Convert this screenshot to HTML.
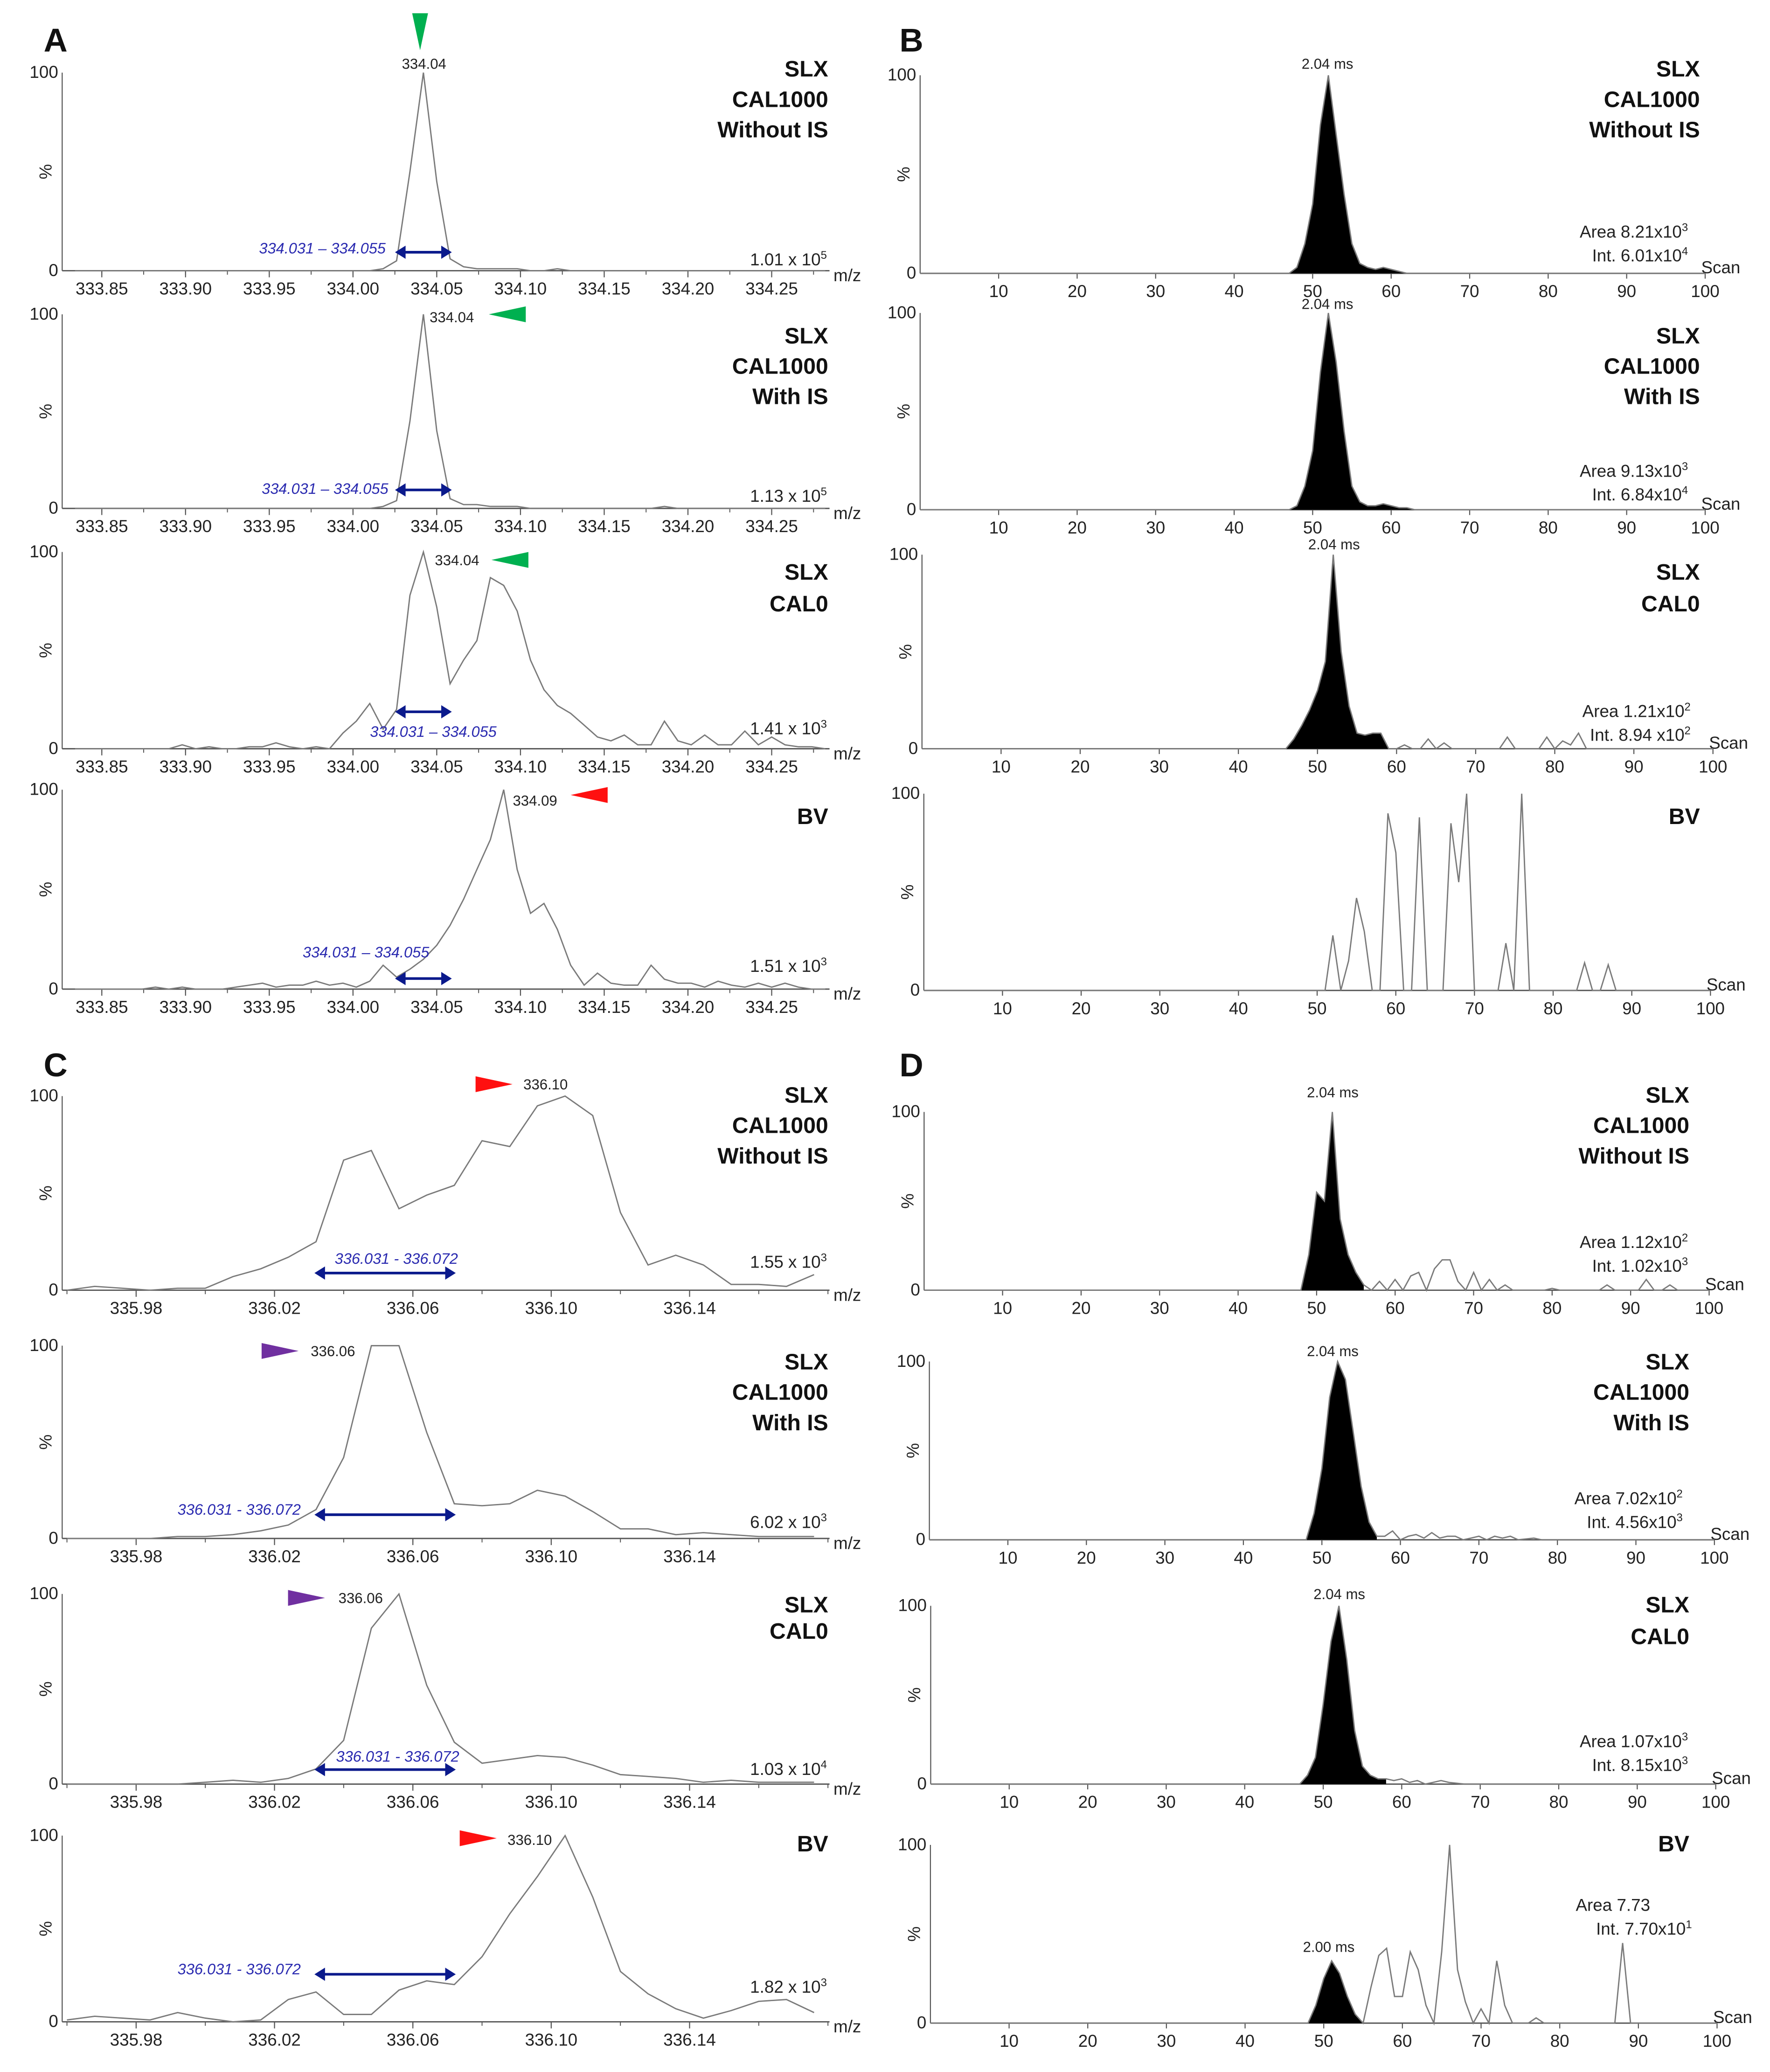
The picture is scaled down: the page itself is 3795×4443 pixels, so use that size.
<!DOCTYPE html>
<html><head><meta charset="utf-8"><title>Mass spectra and chromatograms</title>
<style>
html,body{margin:0;padding:0;background:#fff;}
svg{display:block;font-family:"Liberation Sans",sans-serif;}
</style></head>
<body>
<svg id="fig" xmlns="http://www.w3.org/2000/svg" width="3795" height="4443" viewBox="0 0 1340 1569">
<rect width="1340" height="1569" fill="#fff"/>
</svg>
<script>
// ===== Data =====
const aMzStart = 333.834;
const aMzStep = 0.008;
const aTicks = [333.85,333.90,333.95,334.00,334.05,334.10,334.15,334.20,334.25];
const a1Vals = [0,0,0,0,0,0,0,0,0,0,0,0,0,0,0,0,0,0,0,0,0,0,0,1,5,50,100,45,6,2,1,1,1,1,0,0,1,0,0,0,0,0,0,0,0,0,0,0,0,0,0,0,0,0,0,0,0];
const a2Vals = [0,0,0,0,0,0,0,0,0,0,0,0,0,0,0,0,0,0,0,0,0,0,0,1,4,45,100,40,5,2,2,1,1,1,0,0,0,0,0,0,0,0,0,0,1,0,0,0,0,0,0,0,0,0,0,0,0];
const a3Vals = [0,0,0,0,0,0,0,0,2,0,1,0,0,1,1,3,1,0,1,0,8,14,23,10,20,78,100,72,33,45,55,87,83,70,45,30,22,18,12,6,4,7,2,2,14,4,2,7,2,2,9,2,6,2,1,1,0];
const a4Vals = [0,0,0,0,0,0,1,0,1,0,0,0,1,2,3,1,2,2,4,2,3,1,4,12,6,10,15,22,32,45,60,75,100,60,38,43,30,12,2,8,3,2,2,12,5,3,3,1,4,2,1,3,1,3,1,0,0];
const cMzStart = 335.960;
const cMzStep = 0.008;
const cTicks = [335.98,336.02,336.06,336.10,336.14];
const c1Vals = [0,2,1,0,1,1,7,11,17,25,67,72,42,49,54,77,74,95,100,90,40,13,18,13,3,3,2,8];
const c2Vals = [0,0,0,0,1,1,2,4,7,15,42,100,100,55,18,17,18,25,22,14,5,5,2,3,2,1,1,1];
const c3Vals = [0,0,0,0,0,1,2,1,3,8,23,82,100,52,22,11,13,15,14,10,5,4,3,1,2,1,1,1];
const c4Vals = [1,3,2,1,5,2,0,1,12,16,4,4,17,22,20,35,58,78,100,67,27,15,7,2,6,11,12,5];
const scanTicks = [10,20,30,40,50,60,70,80,90,100];
const b1Scans = [0,47,48,49,50,51,52,53,54,55,56,57,58,59,60,61,62,100];
const b1Vals  = [0,0,3,15,35,75,100,70,40,15,5,3,2,3,2,1,0,0];
const b1Fill = [47,62];
const b2Scans = [0,47,48,49,50,51,52,53,54,55,56,57,58,59,60,61,62,63,100];
const b2Vals  = [0,0,2,12,30,70,100,75,40,12,4,2,2,3,2,1,1,0,0];
const b2Fill = [47,63];
const b3Scans = [0,46,47,48,49,50,51,52,53,54,55,56,57,58,59,60,61,62,63,64,65,66,67,73,74,75,78,79,80,81,82,83,84,100];
const b3Vals  = [0,0,5,12,20,30,45,100,50,22,8,7,8,8,0,0,2,0,0,5,0,3,0,0,6,0,0,6,0,4,2,8,0,0];
const b3Fill = [46,59];
const b4Scans = [0,51,52,53,54,55,56,57,58,59,60,61,62,63,64,65,66,67,68,69,70,73,74,75,76,77,83,84,85,86,87,88,100];
const b4Vals  = [0,0,28,0,15,47,30,0,0,90,70,0,0,88,0,0,0,85,55,100,0,0,24,0,100,0,0,14,0,0,13,0,0];
const b4Fill = null;
const d1Scans = [0,48,49,50,51,52,53,54,55,56,57,58,59,60,61,62,63,64,65,66,67,68,69,70,71,72,73,74,75,79,80,81,86,87,88,91,92,93,94,95,96,100];
const d1Vals  = [0,0,20,55,50,100,40,20,10,3,0,5,0,6,0,8,10,0,12,17,17,5,0,10,0,6,0,3,0,0,1,0,0,3,0,0,6,0,0,3,0,0];
const d1Fill = [48,56];
const d2Scans = [0,48,49,50,51,52,53,54,55,56,57,58,59,60,61,62,63,64,65,66,67,68,69,70,71,72,73,74,75,77,78,100];
const d2Vals  = [0,0,15,40,80,100,90,60,30,10,2,2,5,0,2,3,1,4,1,2,2,0,1,2,0,2,1,2,0,1,0,0];
const d2Fill = [48,57];
const d3Scans = [0,47,48,49,50,51,52,53,54,55,56,57,58,59,60,61,62,63,64,65,66,68,100];
const d3Vals  = [0,0,5,15,45,80,100,70,30,10,5,3,3,2,3,1,2,0,1,2,1,0,0];
const d3Fill = [47,58];
const d4Scans = [0,48,49,50,51,52,53,54,55,56,57,58,59,60,61,62,63,64,65,66,67,68,69,70,71,72,73,74,75,76,77,78,87,88,89,100];
const d4Vals  = [0,0,10,25,35,28,15,5,0,20,38,42,15,15,40,30,10,0,40,100,30,12,0,8,0,35,10,0,0,0,3,0,0,45,0,0];
const d4Fill = [48,55];

// ===== Rendering =====
const NS = "http://www.w3.org/2000/svg";
const svg = document.getElementById("fig");
function mk(tag, attrs, parent, text){
  const e = document.createElementNS(NS, tag);
  for (const k in attrs) e.setAttribute(k, attrs[k]);
  if (text !== undefined) e.textContent = text;
  (parent||svg).appendChild(e);
  return e;
}
function txt(x,y,s,size,anchor,parent,extra){
  const a = {x:x,y:y,"font-size":size,"text-anchor":anchor||"start",fill:"#222"};
  if (extra) for (const k in extra) a[k]=extra[k];
  return mk("text", a, parent, s);
}
function sup(x,y,base,exp,size,anchor,parent){
  const t = mk("text",{x:x,y:y,"font-size":size,"text-anchor":anchor,fill:"#222"},parent);
  mk("tspan",{},t,base);
  mk("tspan",{dy:-5,"font-size":size*0.65},t,exp);
  return t;
}
function yAxisLabels(g, ax, yTop, yBot){
  txt(ax-3, yTop+4, "100", 13, "end", g);
  txt(ax-3, yBot+4, "0", 13, "end", g);
  const my = (yTop+yBot)/2;
  txt(0,0,"%",13,"middle",g,{transform:"translate("+(ax-8)+","+my+") rotate(-90)"});
  mk("line",{x1:ax,y1:yTop,x2:ax,y2:yBot,stroke:"#555","stroke-width":0.8},g);
}
function triangle(g, x, y, dir, color){
  let pts;
  if (dir==="down") pts = [[x-6,y-28],[x+6,y-28],[x,y]];
  else if (dir==="left") pts = [[x,y],[x+28,y-6],[x+28,y+6]];
  else pts = [[x,y-6],[x,y+6],[x+28,y]];
  const p = mk("polygon",{points:pts.map(p=>p.join(",")).join(" "),fill:color},g);
  
  
}
function dblArrow(g, x1, x2, y){
  mk("line",{x1:x1+6,y1:y,x2:x2-6,y2:y,stroke:"#0b1a8c","stroke-width":2},g);
  mk("polygon",{points:`${x1},${y} ${x1+8},${y-5} ${x1+8},${y+5}`,fill:"#0b1a8c"},g);
  mk("polygon",{points:`${x2},${y} ${x2-8},${y-5} ${x2-8},${y+5}`,fill:"#0b1a8c"},g);
}
function rightLabels(g, x, lines){
  lines.forEach(l=>{ txt(x, l[1]+6, l[0], 17, "end", g, {"font-weight":"bold",fill:"#111"}); });
}
function spectrum(name, cfg, mzStart, mzStep, vals, ticks){
  const g = mk("g",{});
  
  
  const xs = mz => cfg.px0 + (mz - cfg.mz0) * cfg.pxPer;
  const ys = v => cfg.yBot - v/100*(cfg.yBot-cfg.yTop);
  yAxisLabels(g, cfg.ax, cfg.yTop, cfg.yBot);
  mk("line",{x1:cfg.ax,y1:cfg.yBot,x2:cfg.xEnd,y2:cfg.yBot,stroke:"#555","stroke-width":1},g);
  const tickStep = ticks[1]-ticks[0];
  for (let m = ticks[0]-tickStep; m <= ticks[ticks.length-1]+tickStep*1.01; m += tickStep/2){
    const x = xs(m);
    if (x < cfg.ax || x > cfg.xEnd) continue;
    mk("line",{x1:x,y1:cfg.yBot,x2:x,y2:cfg.yBot+3,stroke:"#555","stroke-width":0.7},g);
  }
  ticks.forEach(t=>{
    const x = xs(t);
    mk("line",{x1:x,y1:cfg.yBot,x2:x,y2:cfg.yBot+5,stroke:"#555","stroke-width":0.8},g);
    const lab = txt(x, cfg.yBot+18, t.toFixed(2), 13, "middle", g);
    
    
  });
  txt(cfg.xEnd+3, cfg.yBot+8, "m/z", 13, "start", g);
  const pts = vals.map((v,i)=>{ const x = xs(mzStart + i*mzStep); return [Math.max(cfg.ax,Math.min(cfg.xEnd,x)), ys(v)]; });
  const line = mk("polyline",{points:pts.map(p=>p[0].toFixed(1)+","+p[1].toFixed(1)).join(" "),fill:"none",stroke:"#7a7a7a","stroke-width":1},g);
  
  
  const pk = txt(cfg.peakLbl[0], cfg.peakLbl[1]+4, cfg.peakLbl[2], 11, "middle", g);
  
  
  triangle(g, cfg.tri[0], cfg.tri[1], cfg.tri[2], cfg.tri[3]);
  const rt = txt(cfg.rangeTxt[0], cfg.rangeTxt[1]+4, cfg.rangeTxt[2], 11.5, "middle", g, {"font-style":"italic",fill:"#2a2ab0"});
  
  
  dblArrow(g, cfg.arrow[0], cfg.arrow[1], cfg.arrow[2]);
  const it = sup(cfg.xEnd-2, cfg.intY+4, cfg.intens[0], cfg.intens[1], 13, "end", g);
  
  
  rightLabels(g, cfg.xEnd-1, cfg.labels);
}
function chrom(name, cfg, scans, vals, fill){
  const g = mk("g",{});
  
  
  const xs = s => cfg.x0 + s*cfg.per;
  const ys = v => cfg.yBot - v/100*(cfg.yBot-cfg.yTop);
  const xEnd = xs(100);
  yAxisLabels(g, cfg.x0, cfg.yTop, cfg.yBot);
  mk("line",{x1:cfg.x0,y1:cfg.yBot,x2:xEnd,y2:cfg.yBot,stroke:"#555","stroke-width":1},g);
  scanTicks.forEach(t=>{
    const x = xs(t);
    mk("line",{x1:x,y1:cfg.yBot,x2:x,y2:cfg.yBot+4,stroke:"#555","stroke-width":0.8},g);
    const lab = txt(x, cfg.yBot+18, String(t), 13, "middle", g);
    
    
  });
  txt(xEnd-3, cfg.yBot, "Scan", 13, "start", g);
  if (fill){
    const fp = [];
    scans.forEach((s,i)=>{ if (s>=fill[0] && s<=fill[1]) fp.push([xs(s), ys(vals[i])]); });
    fp.push([xs(fill[1]), cfg.yBot]); fp.unshift([xs(fill[0]), cfg.yBot]);
    const area = mk("polygon",{points:fp.map(p=>p[0].toFixed(1)+","+p[1].toFixed(1)).join(" "),fill:"#000"},g);
    
    
  }
  const line = mk("polyline",{points:scans.map((s,i)=>xs(s).toFixed(1)+","+ys(vals[i]).toFixed(1)).join(" "),fill:"none",stroke:"#7a7a7a","stroke-width":1},g);
  
  
  if (cfg.rt){ const r = txt(cfg.rt[0], cfg.rt[1]+4, cfg.rt[2], 11, "middle", g);
    
     }
  if (cfg.area){
    const a = sup(cfg.area[0], cfg.area[1]+4, cfg.area[2], cfg.area[3], 13, cfg.area[4]||"end", g);
    
    
  }
  if (cfg.inten){
    const a = sup(cfg.inten[0], cfg.inten[1]+4, cfg.inten[2], cfg.inten[3], 13, "end", g);
    
    
  }
  rightLabels(g, cfg.lx, cfg.labels);
}

[["A",42,30],["B",690,30],["C",42,806],["D",690,806]].forEach(p=>{
  const t = txt(p[1], p[2]+9, p[0], 25, "middle", svg, {"font-weight":"bold",fill:"#111"});
  
  
});

const G="#00b050", R="#ff1010", P="#7030a0";
const A = {ax:47, xEnd:628, px0:77, mz0:333.85, pxPer:1268};
spectrum("spectrum-a1", Object.assign({},A,{yTop:55,yBot:205,peakLbl:[321,48,"334.04"],tri:[318,38,"down",G],rangeTxt:[244,188,"334.031 – 334.055"],arrow:[299,342,191],intY:197,intens:["1.01 x 10","5"],labels:[["SLX",52],["CAL1000",75],["Without IS",98]]}), aMzStart, aMzStep, a1Vals, aTicks);
spectrum("spectrum-a2", Object.assign({},A,{yTop:238,yBot:385,peakLbl:[342,240,"334.04"],tri:[370,238,"left",G],rangeTxt:[246,370,"334.031 – 334.055"],arrow:[299,342,371],intY:376,intens:["1.13 x 10","5"],labels:[["SLX",254],["CAL1000",277],["With IS",300]]}), aMzStart, aMzStep, a2Vals, aTicks);
spectrum("spectrum-a3", Object.assign({},A,{yTop:418,yBot:567,peakLbl:[346,424,"334.04"],tri:[372,424,"left",G],rangeTxt:[328,554,"334.031 – 334.055"],arrow:[299,342,539],intY:552,intens:["1.41 x 10","3"],labels:[["SLX",433],["CAL0",457]]}), aMzStart, aMzStep, a3Vals, aTicks);
spectrum("spectrum-a4", Object.assign({},A,{yTop:598,yBot:749,peakLbl:[405,606,"334.09"],tri:[432,602,"left",R],rangeTxt:[277,721,"334.031 – 334.055"],arrow:[299,342,741],intY:732,intens:["1.51 x 10","3"],labels:[["BV",618]]}), aMzStart, aMzStep, a4Vals, aTicks);

const C = {ax:47, xEnd:628, px0:103, mz0:335.98, pxPer:2619};
spectrum("spectrum-c1", Object.assign({},C,{yTop:830,yBot:977,peakLbl:[413,821,"336.10"],tri:[360,821,"right",R],rangeTxt:[300,953,"336.031 - 336.072"],arrow:[238,345,964],intY:956,intens:["1.55 x 10","3"],labels:[["SLX",829],["CAL1000",852],["Without IS",875]]}), cMzStart, cMzStep, c1Vals, cTicks);
spectrum("spectrum-c2", Object.assign({},C,{yTop:1019,yBot:1165,peakLbl:[252,1023,"336.06"],tri:[198,1023,"right",P],rangeTxt:[181,1143,"336.031 - 336.072"],arrow:[238,345,1147],intY:1153,intens:["6.02 x 10","3"],labels:[["SLX",1031],["CAL1000",1054],["With IS",1077]]}), cMzStart, cMzStep, c2Vals, cTicks);
spectrum("spectrum-c3", Object.assign({},C,{yTop:1207,yBot:1351,peakLbl:[273,1210,"336.06"],tri:[218,1210,"right",P],rangeTxt:[301,1330,"336.031 - 336.072"],arrow:[238,345,1340],intY:1340,intens:["1.03 x 10","4"],labels:[["SLX",1215],["CAL0",1235]]}), cMzStart, cMzStep, c3Vals, cTicks);
spectrum("spectrum-c4", Object.assign({},C,{yTop:1390,yBot:1531,peakLbl:[401,1393,"336.10"],tri:[348,1392,"right",R],rangeTxt:[181,1491,"336.031 - 336.072"],arrow:[238,345,1495],intY:1505,intens:["1.82 x 10","3"],labels:[["BV",1396]]}), cMzStart, cMzStep, c4Vals, cTicks);

chrom("chromatogram-b1",{x0:696.6,per:5.944,yTop:57,yBot:207,rt:[1005,48,"2.04 ms"],area:[1278,176,"Area 8.21x10","3"],inten:[1278,194,"Int. 6.01x10","4"],lx:1287,labels:[["SLX",52],["CAL1000",75],["Without IS",98]]}, b1Scans, b1Vals, b1Fill);
chrom("chromatogram-b2",{x0:696.6,per:5.944,yTop:237,yBot:386,rt:[1005,230,"2.04 ms"],area:[1278,357,"Area 9.13x10","3"],inten:[1278,375,"Int. 6.84x10","4"],lx:1287,labels:[["SLX",254],["CAL1000",277],["With IS",300]]}, b2Scans, b2Vals, b2Fill);
chrom("chromatogram-b3",{x0:698,per:5.989,yTop:420,yBot:567,rt:[1010,412,"2.04 ms"],area:[1280,539,"Area 1.21x10","2"],inten:[1280,557,"Int. 8.94 x10","2"],lx:1287,labels:[["SLX",433],["CAL0",457]]}, b3Scans, b3Vals, b3Fill);
chrom("chromatogram-b4",{x0:699.4,per:5.956,yTop:601,yBot:750,lx:1287,labels:[["BV",618]]}, b4Scans, b4Vals, b4Fill);

chrom("chromatogram-d1",{x0:699.6,per:5.944,yTop:842,yBot:977,rt:[1009,827,"2.04 ms"],area:[1278,941,"Area 1.12x10","2"],inten:[1278,959,"Int. 1.02x10","3"],lx:1279,labels:[["SLX",829],["CAL1000",852],["Without IS",875]]}, d1Scans, d1Vals, d1Fill);
chrom("chromatogram-d2",{x0:703.6,per:5.944,yTop:1031,yBot:1166,rt:[1009,1023,"2.04 ms"],area:[1274,1135,"Area 7.02x10","2"],inten:[1274,1153,"Int. 4.56x10","3"],lx:1279,labels:[["SLX",1031],["CAL1000",1054],["With IS",1077]]}, d2Scans, d2Vals, d2Fill);
chrom("chromatogram-d3",{x0:704.6,per:5.944,yTop:1216,yBot:1351,rt:[1014,1207,"2.04 ms"],area:[1278,1319,"Area 1.07x10","3"],inten:[1278,1337,"Int. 8.15x10","3"],lx:1279,labels:[["SLX",1215],["CAL0",1239]]}, d3Scans, d3Vals, d3Fill);
chrom("chromatogram-d4",{x0:704.4,per:5.956,yTop:1397,yBot:1532,rt:[1006,1474,"2.00 ms"],area:[1193,1443,"Area 7.73","","start"],inten:[1281,1461,"Int. 7.70x10","1"],lx:1279,labels:[["BV",1396]]}, d4Scans, d4Vals, d4Fill);
</script>
</body></html>
